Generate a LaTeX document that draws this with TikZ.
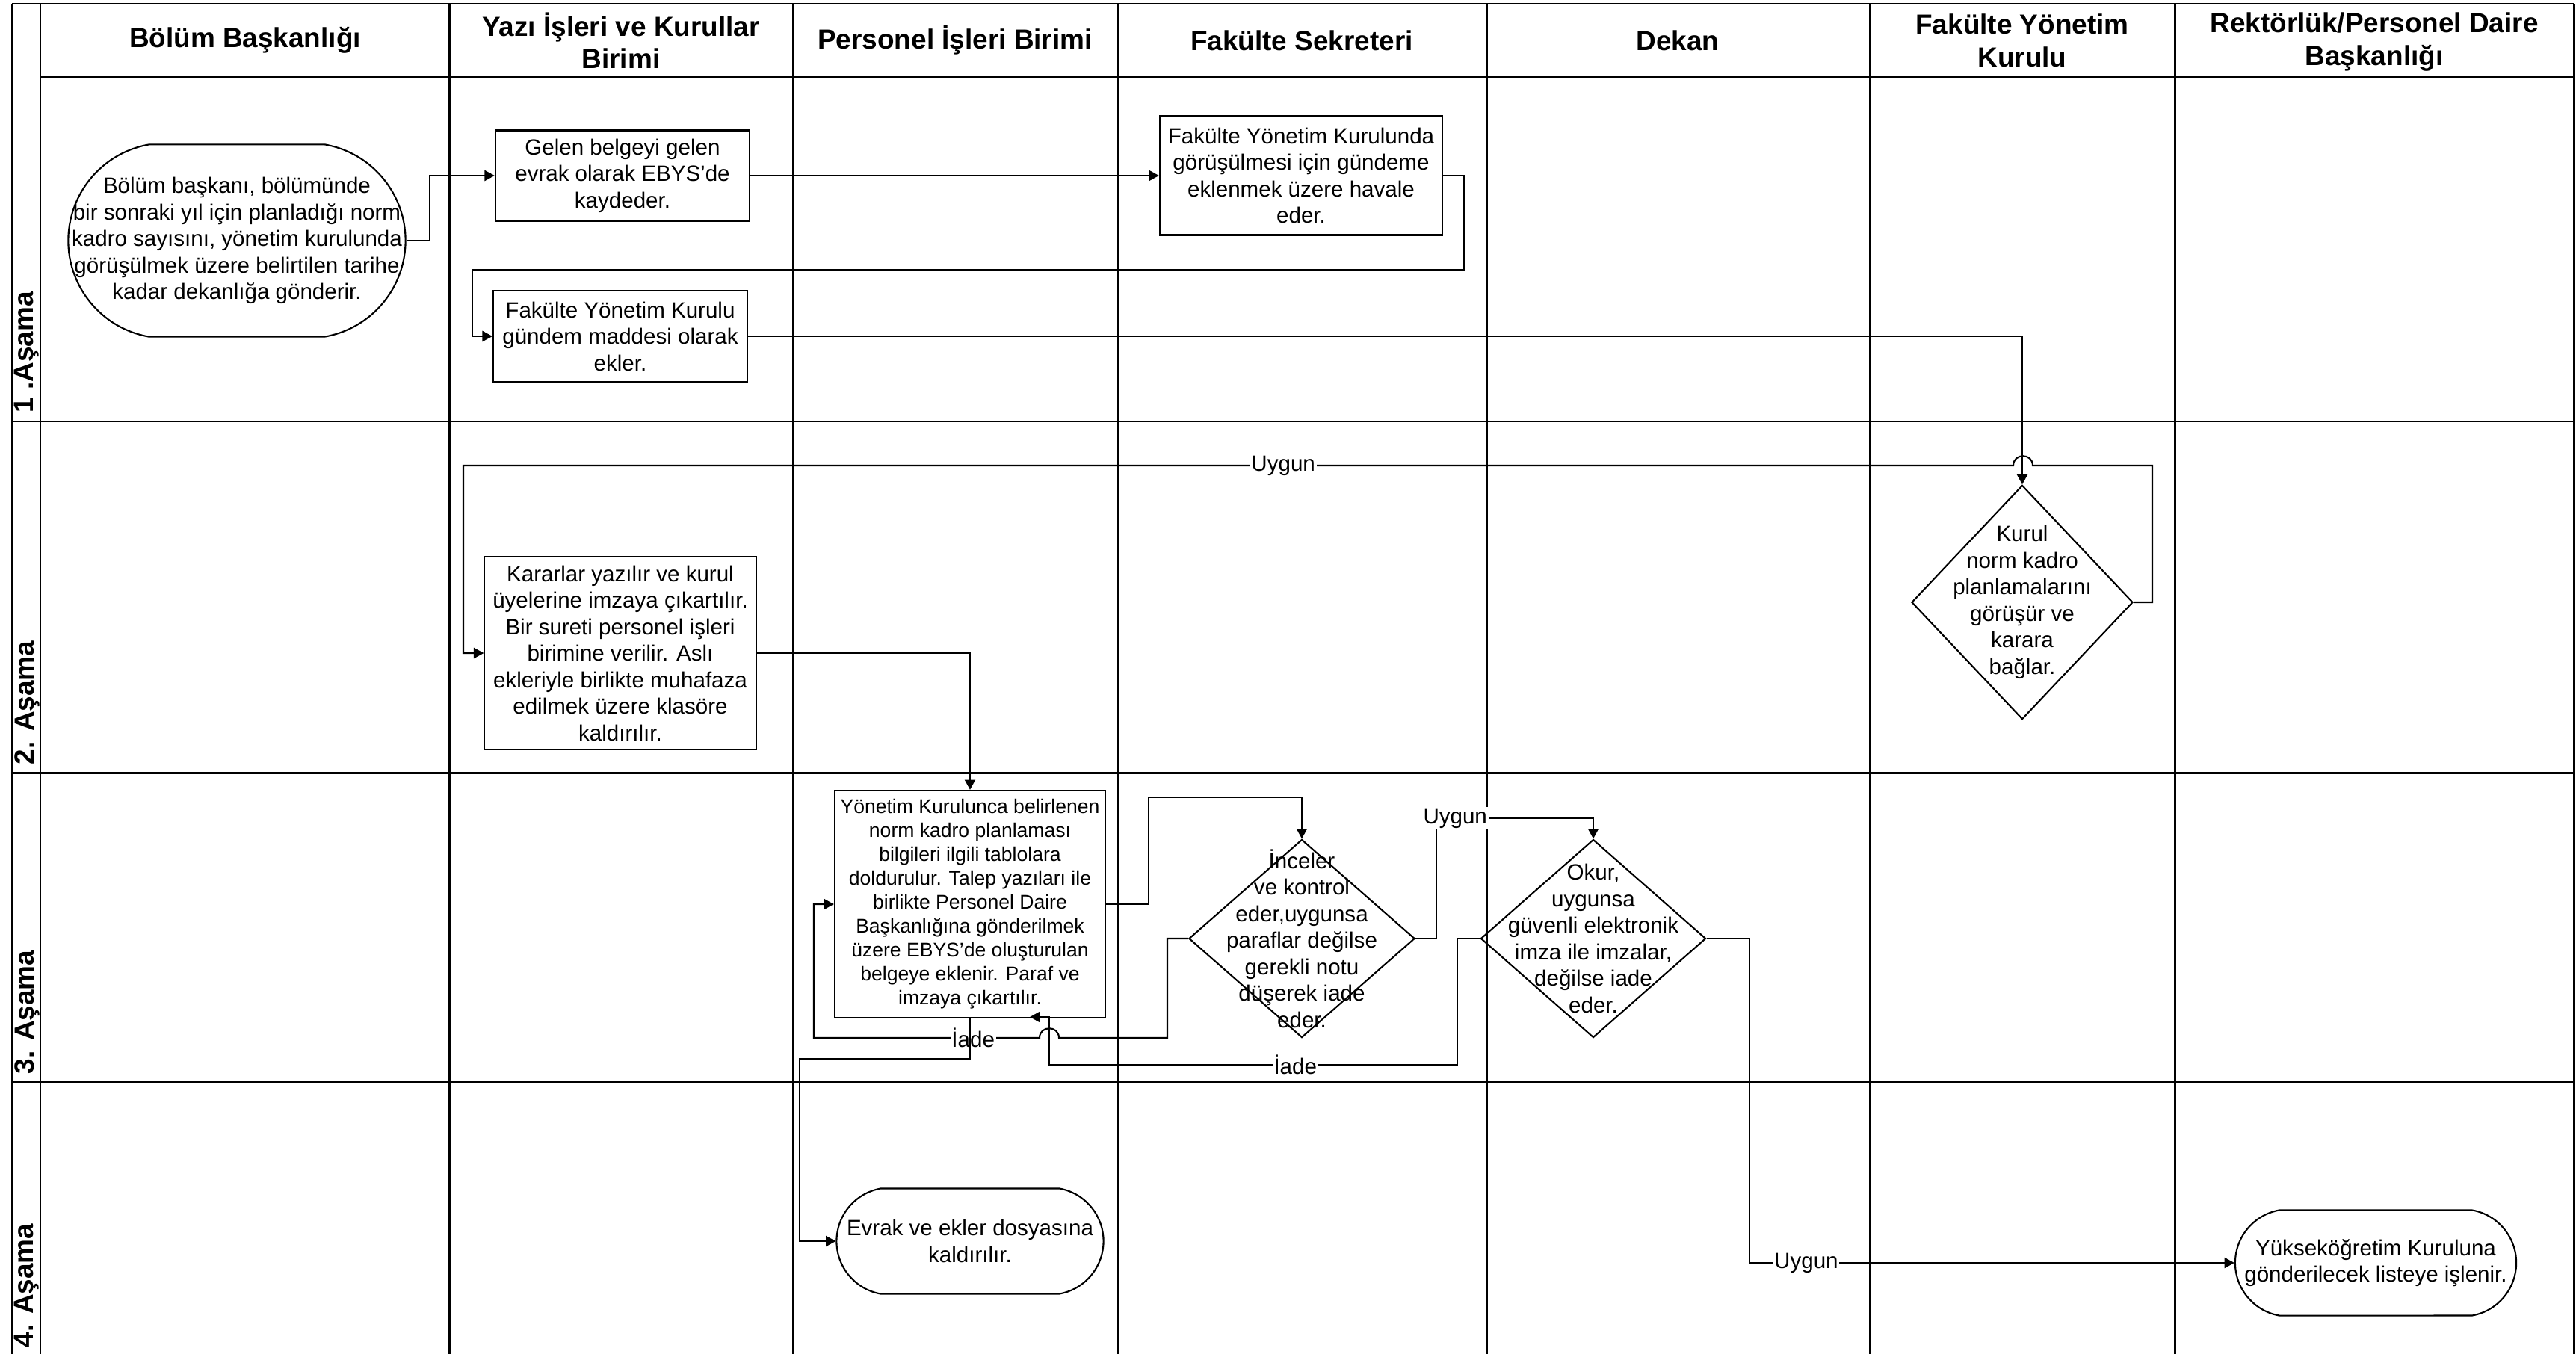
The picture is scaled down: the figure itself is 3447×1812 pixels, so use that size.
\documentclass[tikz,border=0pt]{standalone}
\usepackage{fontspec}
\setmainfont{Liberation Sans}
\usetikzlibrary{shapes.geometric,shapes.misc,arrows.meta}
\newcommand\flowfont{\fontsize{8.4}{10.1}\selectfont}
\newcommand\smallflow{\fontsize{7.55}{9.1}\selectfont}
\newcommand\headfont{\bfseries\fontsize{10.5}{12.4}\selectfont}

\begin{document}
\begin{tikzpicture}[x=0.01cm, y=-0.01cm, line width=0.6pt,
  every node/.style={align=center, font=\flowfont, inner sep=1pt},
  lane/.style={line width=0.85pt},
  box/.style={draw, rectangle},
  term/.style={draw, rounded rectangle, rounded rectangle arc length=160},
  dec/.style={draw, diamond, inner sep=0pt},
  head/.style={font=\headfont},
  stage/.style={font=\headfont, rotate=90, anchor=west},
  lbl/.style={fill=white, inner sep=0.5pt},
  flow/.style={-{Triangle[length=3.8pt,width=4pt]}}]
\useasboundingbox (0,0) rectangle (3447,1812);

\foreach \x in {16,54,601,1061,1496,1989,2502,2910,3444}
  \draw[lane] (\x,5) -- (\x,1812);
\foreach \y in {564,1034,1448}
  \draw[lane] (16,\y) -- (3444,\y);
\draw[lane] (16,5) -- (3444,5);
\draw[lane] (54,103) -- (3444,103);

\node[head] (h1) at (328,54) {Bölüm Başkanlığı};
\node[head] (h2) at (831,54) {Yazı İşleri ve Kurullar\\Birimi};
\node[head] (h3) at (1278,54) {Personel İşleri Birimi};
\node[head] (h4) at (1742,54) {Fakülte Sekreteri};
\node[head] (h5) at (2245,54) {Dekan};
\node[head] (h6) at (2706,54) {Fakülte Yönetim\\Kurulu};
\node[head] (h7) at (3177,56) {Rektörlük/Personel Daire\\Başkanlığı};

\node[stage] (s1) at (36,557) {1 .Aşama};
\node[stage] (s2) at (36,1028) {2. Aşama};
\node[stage] (s3) at (36,1442) {3. Aşama};
\node[stage] (s4) at (36,1808) {4. Aşama};

\node[term, minimum width=4.58cm, minimum height=2.57cm, label={center:{Bölüm başkanı, bölümünde\\ bir sonraki yıl için planladığı norm\\kadro sayısını,  yönetim kurulunda\\görüşülmek üzere belirtilen tarihe\\kadar  dekanlığa  gönderir.}}] (bb) at (317,322) {};
\node[box, minimum width=3.4cm, minimum height=1.21cm] (gel) at (833,235) {Gelen belgeyi gelen\\evrak olarak EBYS’de\\kaydeder.};
\node[box, minimum width=3.78cm, minimum height=1.59cm] (fys) at (1741,235) {Fakülte Yönetim Kurulunda\\görüşülmesi için gündeme\\eklenmek üzere havale\\eder.};
\node[box, minimum width=3.4cm, minimum height=1.22cm] (gnd) at (830,450) {Fakülte Yönetim Kurulu\\gündem maddesi olarak\\ekler.};
\node[dec, minimum width=2.96cm, minimum height=3.13cm, label={center:{Kurul\\norm kadro\\planlamalarını\\görüşür ve\\karara\\bağlar.}}] (kur) at (2706,806) {};
\node[box, minimum width=3.63cm, minimum height=2.57cm] (kar) at (830,874) {Kararlar  yazılır ve kurul\\üyelerine imzaya çıkartılır.\\Bir sureti personel işleri\\birimine  verilir. Aslı\\ekleriyle birlikte muhafaza\\edilmek üzere klasöre\\kaldırılır.};
\node[box, minimum width=3.62cm, minimum height=3.04cm, font=\smallflow] (ynt) at (1298,1210) {Yönetim Kurulunca belirlenen\\norm kadro planlaması\\bilgileri ilgili tablolara\\doldurulur. Talep yazıları ile\\birlikte  Personel Daire\\Başkanlığına gönderilmek\\üzere  EBYS’de oluşturulan\\belgeye  eklenir. Paraf ve\\imzaya çıkartılır.};
\node[dec, minimum width=3.02cm, minimum height=2.65cm, label={center:{İnceler\\ve kontrol\\eder,uygunsa\\paraflar  değilse\\gerekli notu\\düşerek iade\\eder.}}] (inc) at (1742,1256) {};
\node[dec, minimum width=3.01cm, minimum height=2.65cm, label={center:{Okur,\\uygunsa\\güvenli elektronik\\imza ile imzalar,\\değilse  iade\\eder.}}] (okr) at (2132,1256) {};
\node[term, minimum width=3.64cm, minimum height=1.41cm] (evr) at (1298,1661) {Evrak ve ekler dosyasına\\kaldırılır.};
\node[term, minimum width=3.83cm, minimum height=1.41cm] (yok) at (3179,1690) {Yükseköğretim Kuruluna\\gönderilecek listeye işlenir.};
\coordinate (ret) at (1378,1361);

\draw[flow] (bb.east) -- (575,322) |- (gel.west);
\draw[flow] (gel.east) -- (fys.west);
\draw[flow] (fys.east) -- (1959,235) -- (1959,361) -- (632,361) |- (gnd.west);
\draw[flow] (gnd.east) -| (kur.north);
\draw[flow] (kur.east) -- (2880,806) -- (2880,623) -- (2720,623) .. controls (2720,606) and (2694,606) .. (2694,623) -- node[lbl, pos=0.471] {Uygun} (620,623) -- (620,874) -- (kar.west);
\draw[flow] (kar.east) -| (ynt.north);
\draw[flow] (ynt.east) -- (1537,1210) -- (1537,1067) -| (inc.north);
\draw[flow] (inc.east) -- (1922,1256) -- (1922,1095) -- node[lbl, pos=0.12] {Uygun} (2132,1095) -- (okr.north);
\draw[flow] (inc.west) -- (1562,1256) -- (1562,1389) -- (1417,1389) .. controls (1417,1372) and (1391,1372) .. (1391,1389) -- node[lbl, pos=0.294] {İade} (1089,1389) -- (1089,1210) -- (ynt.west);
\draw[flow] (okr.west) -- (1950,1256) -- (1950,1425) -- node[lbl, pos=0.397] {İade} (1404,1425) |- (ret);
\draw[flow] (ynt.south) -- (1298,1417) -- (1070,1417) |- (evr.west);
\draw[flow] (okr.east) -- (2341,1256) -- (2341,1690) -- node[lbl, pos=0.117] {Uygun} (yok.west);
\end{tikzpicture}
\end{document}
